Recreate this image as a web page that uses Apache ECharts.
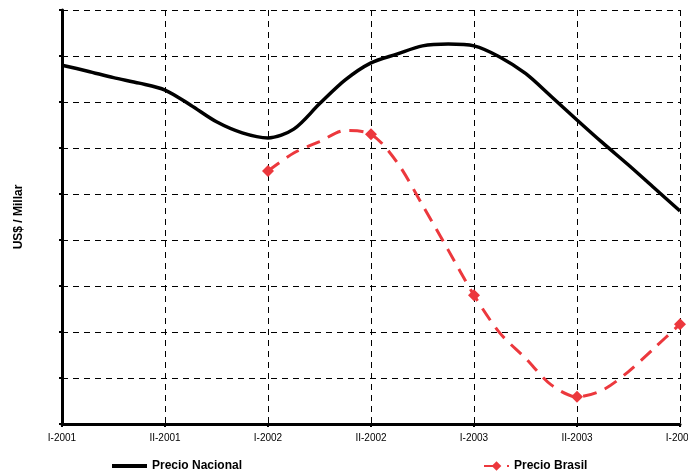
<!DOCTYPE html>
<html>
<head>
<meta charset="utf-8">
<script src="https://cdn.jsdelivr.net/npm/echarts@6/dist/echarts.min.js"></script>
<style>
  html, body { margin: 0; padding: 0; background: #fff; }
  #chart { width: 688px; height: 476px; }
</style>
</head>
<body>
<div id="chart"></div>
<script>
// etiquetas del eje x (semestres)
const periodLabels = ['I-2001', 'II-2001', 'I-2002', 'II-2002', 'I-2003', 'II-2003', 'I-2004'];

// Precio Nacional, leido cada 1/4 de semestre (US$/millar)
const nacionalX = [0, 0.25, 0.5, 0.75, 1, 1.25, 1.5, 1.75, 2, 2.25, 2.5, 2.75, 3,
                   3.25, 3.5, 3.75, 4, 4.25, 4.5, 4.75, 5, 5.25, 5.5, 5.75, 6];
const nacionalY = [7.80, 7.67, 7.53, 7.41, 7.26, 6.93, 6.57, 6.33, 6.22, 6.41, 6.96, 7.48, 7.85,
                   8.04, 8.22, 8.26, 8.22, 7.98, 7.62, 7.12, 6.61, 6.11, 5.63, 5.13, 4.63];

// Precio Brasil, leido cada 1/4 de semestre; marcador solo en cada semestre
const brasilX = [2, 2.25, 2.5, 2.75, 3, 3.25, 3.5, 3.75, 4, 4.25, 4.5, 4.75, 5, 5.25, 5.5, 5.75, 6];
const brasilY = [5.50, 5.89, 6.14, 6.38, 6.30, 5.70, 4.76, 3.78, 2.80, 1.98, 1.43, 0.85, 0.59, 0.74, 1.14, 1.65, 2.17];

const chart = echarts.init(document.getElementById('chart'));

const font = "'Liberation Sans Narrow', 'Liberation Sans', Arial, sans-serif";
const legendText = { fontFamily: font, fontSize: 12, fontWeight: 'bold', color: '#000' };

const option = {
    animation: false,
    grid: { left: 62, right: 8, top: 10, bottom: 52, outerBoundsMode: 'none', containLabel: false },
    legend: [
        {
            top: 460,
            left: 112,
            padding: 0,
            itemWidth: 35,
            itemHeight: 4,
            icon: 'rect',
            textStyle: legendText,
            data: ['Precio Nacional']
        },
        {
            top: 460,
            left: 483,
            padding: 0,
            itemWidth: 25,
            itemHeight: 12,
            textStyle: legendText,
            data: ['Precio Brasil']
        }
    ],
    xAxis: {
        type: 'value',
        min: 0,
        max: 6,
        interval: 1,
        axisLine: { lineStyle: { color: '#000', width: 3 } },
        axisTick: { show: true, length: 3, lineStyle: { color: '#000', width: 2 } },
        axisLabel: {
            fontFamily: font,
            fontSize: 10,
            color: '#000',
            margin: 9,
            formatter: v => periodLabels[v] || ''
        },
        splitLine: { show: true, lineStyle: { color: '#000', type: [6, 5], width: 1 } }
    },
    yAxis: {
        type: 'value',
        min: 0,
        max: 9,
        interval: 1,
        name: 'US$ / Millar',
        nameLocation: 'middle',
        nameGap: 37,
        nameTextStyle: { fontFamily: "'Liberation Sans', Arial, sans-serif", fontSize: 12, fontWeight: 'bold', color: '#000' },
        axisLine: { show: true, lineStyle: { color: '#000', width: 3 } },
        axisTick: { show: true, length: 3, lineStyle: { color: '#000', width: 2 } },
        axisLabel: { show: false },
        splitLine: { show: true, lineStyle: { color: '#000', type: [6, 5], width: 1 } }
    },
    series: [
        {
            name: 'Precio Nacional',
            type: 'line',
            smooth: 0.3,
            showSymbol: false,
            symbol: 'none',
            lineStyle: { color: '#000', width: 3.5 },
            itemStyle: { color: '#000' },
            data: nacionalX.map((x, i) => [x, nacionalY[i]])
        },
        {
            name: 'Precio Brasil',
            type: 'line',
            smooth: 0.3,
            symbol: 'diamond',
            symbolSize: 12,
            lineStyle: { color: '#ec383d', width: 3, type: [14, 9] },
            itemStyle: { color: '#ec383d' },
            data: brasilX.map((x, i) => ({
                value: [x, brasilY[i]],
                symbol: Number.isInteger(x) ? 'diamond' : 'none'
            }))
        }
    ]
};

chart.setOption(option);
</script>
</body>
</html>
